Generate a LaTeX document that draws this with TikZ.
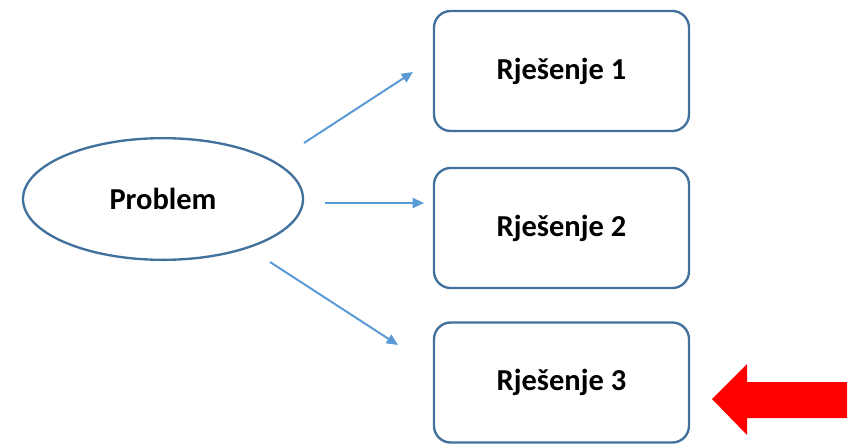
\documentclass[tikz,border=0pt]{standalone}
\usepackage{fontspec}
\setmainfont{Carlito}
\usetikzlibrary{arrows.meta,positioning,shapes.geometric}
\definecolor{boxline}{HTML}{41719C}
\definecolor{linkblue}{HTML}{5B9BD5}
\definecolor{markred}{HTML}{FF0000}
\tikzset{
  >={Triangle[length=3.4mm,width=3mm]},
  % cvorovi
  prob/.style={ellipse,draw=boxline,fill=white,line width=2pt,inner sep=0pt,
               minimum width=8.4cm,minimum height=3.65cm,
               font=\fontsize{26}{30}\selectfont\bfseries},
  sol/.style={rectangle,rounded corners=0.5cm,draw=boxline,fill=white,line width=2pt,
              minimum width=7.65cm,minimum height=3.6cm,
              font=\fontsize{26}{30}\selectfont\bfseries},
  % veze
  link/.style={->,draw=linkblue,line width=1.7pt},
}
\begin{document}
\begin{tikzpicture}[x=0.03cm,y=-0.03cm]
\useasboundingbox (0,0) rectangle (856,446);
  \node[prob] (p) at (163,199) {Problem};
  \node[sol] (r1) at (561.5,71) {Rješenje 1};
  \node[sol] (r2) at (561.5,228) {Rješenje 2};
  \node[sol] (r3) at (561.5,382.5) {Rješenje 3};
  % krajevi strelica
  \coordinate (s1) at (304,143);
  \coordinate (e1) at (413,72);
  \coordinate (s2) at (325,203);
  \coordinate (e2) at (424,203);
  \coordinate (s3) at (270,262);
  \coordinate (e3) at (398,345);
  \draw[link] (s1) -- (e1);
  \draw[link] (s2) -- (e2);
  \draw[link] (s3) -- (e3);
  % crvena strelica
  \fill[markred] (712,399) -- (747,364) -- (747,382) -- (847,382)
    -- (847,418) -- (747,418) -- (747,435) -- cycle;
\end{tikzpicture}
\end{document}
